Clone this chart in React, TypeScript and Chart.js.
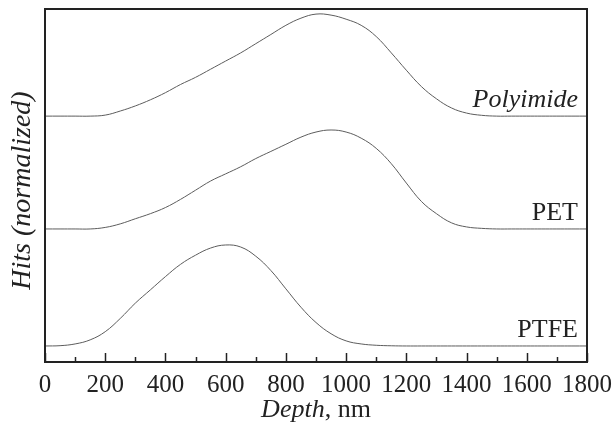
import React, { useEffect, useRef } from "react";
import { Chart, registerables } from "chart.js";

Chart.register(...registerables);

// Depth grid, nm
const DEPTH = [
  0, 50, 100, 150, 200, 250, 300, 350, 400, 450, 500, 550, 600, 650, 700, 750, 800, 850, 900, 950,
  1000, 1050, 1100, 1150, 1200, 1250, 1300, 1350, 1400, 1450, 1500, 1550, 1600, 1650, 1700, 1750, 1800,
];

// Normalized hits per material
const POLYIMIDE = [
  0, 0, 0, 0, 0.01, 0.05, 0.1, 0.16, 0.23, 0.31, 0.38, 0.46, 0.54, 0.62, 0.71, 0.8, 0.89, 0.96, 1.0, 0.99,
  0.95, 0.89, 0.78, 0.62, 0.45, 0.29, 0.17, 0.08, 0.03, 0.008, 0, 0, 0, 0, 0, 0, 0,
];
const PET = [
  0, 0, 0, 0, 0.015, 0.05, 0.1, 0.15, 0.21, 0.29, 0.38, 0.47, 0.54, 0.61, 0.69, 0.76, 0.83, 0.9, 0.95, 0.97,
  0.95, 0.89, 0.79, 0.64, 0.45, 0.27, 0.15, 0.06, 0.02, 0.006, 0, 0, 0, 0, 0, 0, 0,
];
const PTFE = [
  0, 0.003, 0.02, 0.06, 0.14, 0.27, 0.42, 0.55, 0.68, 0.8, 0.89, 0.96, 0.99, 0.97, 0.88, 0.74, 0.56, 0.38, 0.23, 0.12,
  0.05, 0.02, 0.007, 0.002, 0, 0, 0, 0, 0, 0, 0, 0, 0, 0, 0, 0, 0,
];

const SERIES_NAMES = ["Polyimide", "PET", "PTFE"];
const SERIES_ITALIC = [true, false, false];
// vertical offsets used to stack the curves
const OFFSETS = [2.41, 1.304, 0.157];

const X_TICKS = [0, 200, 400, 600, 800, 1000, 1200, 1400, 1600, 1800];

const FONT = "'Liberation Serif', 'Times New Roman', serif";
const INK = "#222";

export default function App() {
  const ref = useRef<HTMLCanvasElement | null>(null);

  useEffect(() => {
    document.body.style.margin = "0";
    const canvas = ref.current!;
    const seriesValues = [POLYIMIDE, PET, PTFE];

    const framePlugin = {
      id: "frame",
      afterDraw(chart: any) {
        const { ctx, chartArea } = chart;
        const xs = chart.scales.x;
        const ys = chart.scales.y;
        ctx.save();
        // frame
        ctx.strokeStyle = INK;
        ctx.lineWidth = 2;
        ctx.strokeRect(chartArea.left, chartArea.top, chartArea.right - chartArea.left, chartArea.bottom - chartArea.top);
        // inward ticks
        ctx.lineWidth = 1.5;
        for (let v = 0; v <= 1800; v += 100) {
          const px = Math.round(xs.getPixelForValue(v)) + 0.5;
          const len = v % 200 === 0 ? 9 : 5;
          ctx.beginPath();
          ctx.moveTo(px, chartArea.bottom);
          ctx.lineTo(px, chartArea.bottom - len);
          ctx.stroke();
        }
        // series labels
        ctx.fillStyle = INK;
        ctx.textAlign = "right";
        ctx.textBaseline = "alphabetic";
        SERIES_NAMES.forEach((name, i) => {
          ctx.font = `${SERIES_ITALIC[i] ? "italic " : ""}26px ${FONT}`;
          const y = ys.getPixelForValue(OFFSETS[i]) - 9;
          ctx.fillText(name, chartArea.right - 9, y);
        });
        // x title
        ctx.font = `italic 26px ${FONT}`;
        const a = "Depth";
        const wa = ctx.measureText(a).width;
        ctx.font = `26px ${FONT}`;
        const b = ", nm";
        const wb = ctx.measureText(b).width;
        const cx = (chartArea.left + chartArea.right) / 2;
        const startX = cx - (wa + wb) / 2;
        ctx.textAlign = "left";
        ctx.font = `italic 26px ${FONT}`;
        ctx.fillText(a, startX, 417);
        ctx.font = `26px ${FONT}`;
        ctx.fillText(b, startX + wa, 417);
        // y title
        ctx.save();
        ctx.translate(30, (chartArea.top + chartArea.bottom) / 2 + 5);
        ctx.rotate(-Math.PI / 2);
        ctx.textAlign = "center";
        ctx.font = `italic 28px ${FONT}`;
        ctx.fillText("Hits (normalized)", 0, 0);
        ctx.restore();
        ctx.restore();
      },
    };

    const chart = new Chart(canvas, {
      type: "line",
      data: {
        datasets: SERIES_NAMES.map((name, i) => ({
          label: name,
          data: DEPTH.map((d, k) => ({ x: d, y: OFFSETS[i] + seriesValues[i][k] })),
          borderColor: "#5c5c5c",
          borderWidth: 1,
          pointRadius: 0,
          tension: 0.4,
          fill: false,
        })),
      },
      options: {
        animation: false,
        responsive: false,
        maintainAspectRatio: false,
        layout: { padding: { left: 45, right: 27, top: 9, bottom: 0 } },
        plugins: { legend: { display: false }, tooltip: { enabled: false } },
        scales: {
          x: {
            type: "linear",
            min: 0,
            max: 1800,
            grid: { display: false, drawTicks: false },
            border: { display: false },
            afterFit: (s: any) => {
              s.height = 65;
              s.paddingRight = 0;
              s.paddingLeft = 0;
            },
            afterBuildTicks: (s: any) => {
              s.ticks = X_TICKS.map((v) => ({ value: v }));
            },
            ticks: {
              autoSkip: false,
              maxRotation: 0,
              padding: 8,
              color: INK,
              font: { family: FONT, size: 25 },
              callback: (v: any) => String(v),
            },
          },
          y: {
            type: "linear",
            min: 0,
            max: 3.46,
            display: false,
          },
        },
      },
      plugins: [framePlugin],
    });
    return () => chart.destroy();
  }, []);

  return (
    <div style={{ position: "fixed", left: 0, top: 0, width: 614, height: 427, background: "#fff" }}>
      <canvas ref={ref} width={614} height={427} style={{ width: 614, height: 427 }} />
    </div>
  );
}
